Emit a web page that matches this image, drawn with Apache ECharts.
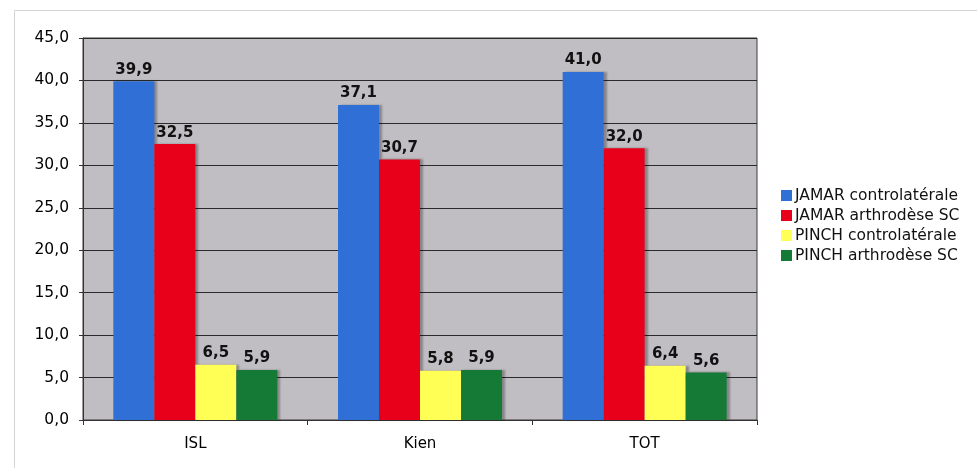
<!DOCTYPE html>
<html><head><meta charset="utf-8">
<script src="https://cdn.jsdelivr.net/npm/echarts@6/dist/echarts.min.js"></script>
<style>html,body{margin:0;padding:0;background:#fff}#c{width:977px;height:468px}</style>
</head><body><div id="c"></div>
<script>
var categories = ['ISL', 'Kien', 'TOT'];
var seriesNames = ['JAMAR controlatérale', 'JAMAR arthrodèse SC', 'PINCH controlatérale', 'PINCH arthrodèse SC'];
var jamarContro = [39.9, 37.1, 41.0];
var jamarArthro = [32.5, 30.7, 32.0];
var pinchContro = [6.5, 5.8, 6.4];
var pinchArthro = [5.9, 5.9, 5.6];
var colors = ['#2f6fd6', '#e8001a', '#ffff55', '#157a36'];

var font = 'DejaVu Sans, Verdana, sans-serif';
var chart = echarts.init(document.getElementById('c'), null, {renderer: 'canvas'});
function fmt(v) { return v.toFixed(1).replace('.', ','); }
var dataSets = [jamarContro, jamarArthro, pinchContro, pinchArthro];
var series = dataSets.map(function (d, i) {
  return {
    name: seriesNames[i], type: 'bar', data: d,
    barGap: '0%', barCategoryGap: '27%',
    itemStyle: {color: colors[i], shadowColor: 'rgba(0,0,0,0.3)', shadowOffsetX: 3, shadowBlur: 2},
    label: {show: true, position: 'top', distance: 4, color: '#111', fontFamily: font,
      fontWeight: 'bold', fontSize: 15, formatter: function (p) { return fmt(p.value); }}
  };
});
chart.setOption({
  animation: false,
  backgroundColor: '#fff',
  color: colors,
  graphic: [{type: 'rect', shape: {x: 14.5, y: 10.5, width: 1000, height: 500},
    style: {fill: 'none', stroke: '#d4d4d4', lineWidth: 1}, silent: true}],
  grid: {left: 83, right: 220, top: 38, bottom: 48, show: true,
    backgroundColor: '#c1bec3', borderColor: '#3a3a3a', borderWidth: 1},
  legend: {orient: 'vertical', left: 776, top: 182, itemWidth: 11, itemHeight: 11, itemGap: 3,
    icon: 'rect', textStyle: {fontFamily: font, fontSize: 15.5, color: '#111', lineHeight: 17, padding: [0, 0, 0, -2]},
    data: seriesNames},
  xAxis: {type: 'category', data: categories,
    axisLine: {lineStyle: {color: '#333'}},
    axisTick: {show: true, length: 5, lineStyle: {color: '#333'}},
    axisLabel: {fontFamily: font, fontSize: 15, color: '#000', margin: 17}},
  yAxis: {type: 'value', min: 0, max: 45, interval: 5,
    axisLine: {show: true, lineStyle: {color: '#333'}},
    axisTick: {show: true, length: 4, lineStyle: {color: '#333'}},
    splitLine: {lineStyle: {color: '#2a2a2a', width: 1}},
    axisLabel: {fontFamily: font, fontSize: 15.5, color: '#000', margin: 14, formatter: fmt}},
  series: series
});
</script></body></html>
